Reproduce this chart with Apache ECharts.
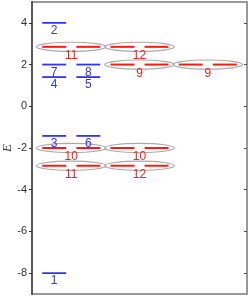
<!DOCTYPE html>
<html><head><meta charset="utf-8">
<script src="https://cdn.jsdelivr.net/npm/echarts@6/dist/echarts.min.js"></script>
<style>html,body{margin:0;padding:0;background:#fff}#c{width:249px;height:297px}</style>
</head><body><div id="c"></div>
<script>
// Blue (single) levels
const blueLabels = ['1','2','3','4','5','6','7','8'];
const blueE      = [-8.0, 4.0, -1.42, 1.4, 1.4, -1.42, 2.0, 2.0];
const blueSlot   = [1, 1, 1, 1, 2, 2, 1, 2];   // half-column slot (1 = left, 2 = right)
// Red (paired, encircled) levels
const redLabels = ['11','12','9','9','10','10','11','12'];
const redE      = [2.85, 2.85, 2.0, 2.0, -2.0, -2.0, -2.85, -2.85];
const redCol    = [1, 2, 2, 3, 1, 2, 1, 2];
const yTicks = [-8,-6,-4,-2,0,2,4];
const yName = 'E';

const blueData = blueLabels.map((l,i)=>({value:[blueSlot[i]-0.5, blueE[i]], name:l}));
const redData = redLabels.map((l,i)=>({value:[redCol[i]*2-1, redE[i]], name:l}));

const chart = echarts.init(document.getElementById('c'), null, {renderer:'canvas'});
const labelFont = '12px "Liberation Sans", Arial, sans-serif';
const xHidden = {type:'value',min:-0.15,max:6.15,axisTick:{show:false},axisLabel:{show:false},splitLine:{show:false}};
chart.setOption({
  animation:false,
  grid:{left:32,right:2,top:2,bottom:3,outerBoundsMode:'none',containLabel:false},
  graphic:[{type:'text',x:8,y:148,rotation:Math.PI/2,
    style:{text:yName,align:'center',verticalAlign:'middle',fill:'#333',
      font:'italic 13px "Liberation Serif","DejaVu Serif",serif'}}],
  xAxis:[Object.assign({position:'bottom',axisLine:{show:true,onZero:false,lineStyle:{color:'#999',width:2}}},xHidden),
         Object.assign({position:'top',axisLine:{show:true,onZero:false,lineStyle:{color:'#999',width:2}}},xHidden)],
  yAxis:[{type:'value',min:-9,max:5,position:'left',z:5,
    axisLine:{show:true,onZero:false,lineStyle:{color:'#222',width:1.5}},
    axisTick:{show:true,inside:false,length:3,customValues:yTicks,lineStyle:{color:'#333'}},
    axisLabel:{customValues:yTicks,margin:5,fontSize:11,color:'#333',fontFamily:'"Liberation Sans", Arial, sans-serif'},
    splitLine:{show:false}},
   {type:'value',min:-9,max:5,position:'right',
    axisLine:{show:true,onZero:false,lineStyle:{color:'#999',width:2}},
    axisTick:{show:true,inside:true,length:3,customValues:yTicks,lineStyle:{color:'#555'}},
    axisLabel:{show:false},splitLine:{show:false}}],
  series:[
    {type:'custom',data:redData,z:2,
     renderItem:function(params,api){
       const c = api.coord([api.value(0),api.value(1)]);
       const s = api.size([1,0.22]);
       const name = redData[params.dataIndex].name;
       const children = [
         {type:'ellipse',shape:{cx:c[0],cy:c[1],rx:s[0]*1.02,ry:s[1]},style:{fill:'none',stroke:'#aaa',lineWidth:1.2}}
       ];
       [-0.5,0.5].forEach(function(o){
         const a = api.coord([api.value(0)+o-0.35,api.value(1)]);
         const b = api.coord([api.value(0)+o+0.35,api.value(1)]);
         children.push({type:'line',shape:{x1:a[0],y1:a[1],x2:b[0],y2:b[1]},style:{stroke:'#ff1a1a',lineWidth:2}});
       });
       children.push({type:'text',style:{text:name,x:c[0],y:c[1]+9,align:'center',verticalAlign:'middle',fill:'#ff1a1a',font:'12px "Liberation Sans", Arial, sans-serif'}});
       return {type:'group',children:children};
     }},
    {type:'custom',data:blueData,z:3,
     renderItem:function(params,api){
       const x = api.value(0), y = api.value(1);
       const a = api.coord([x-0.35,y]);
       const b = api.coord([x+0.35,y]);
       const c = api.coord([x,y]);
       const name = blueData[params.dataIndex].name;
       return {type:'group',children:[
         {type:'line',shape:{x1:a[0],y1:a[1],x2:b[0],y2:b[1]},style:{stroke:'#3333ff',lineWidth:1.8}},
         {type:'text',style:{text:name,x:c[0],y:c[1]+8,align:'center',verticalAlign:'middle',fill:'#3333ff',font:labelFont}}
       ]};
     }}
  ]
});
</script></body></html>
